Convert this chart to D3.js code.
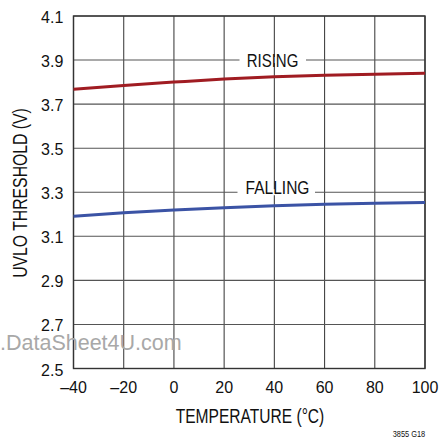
<!DOCTYPE html>
<html><head><meta charset="utf-8">
<script src="https://cdn.jsdelivr.net/npm/d3@7"></script>
<style>
body{margin:0;background:#fff;}
svg text{font-family:"Liberation Sans",Arial,sans-serif;fill:#111;}
</style></head>
<body><svg id="c" width="439" height="438"></svg>
<script>
const temps = [-40, -20, 0, 20, 40, 60, 80, 100];
const rising = [3.767, 3.785, 3.800, 3.814, 3.824, 3.831, 3.836, 3.840];
const falling = [3.191, 3.207, 3.219, 3.230, 3.239, 3.245, 3.250, 3.254];
const xTicks = [-40, -20, 0, 20, 40, 60, 80, 100];
const yTicks = [2.5, 2.7, 2.9, 3.1, 3.3, 3.5, 3.7, 3.9, 4.1];

const svg = d3.select("#c");
const L = 73.5, R = 425, T = 16, B = 368.5;
const x = d3.scaleLinear().domain([-40, 100]).range([L, R]);
const y = d3.scaleLinear().domain([2.5, 4.1]).range([B, T]);

// grid
svg.selectAll(".vg").data(xTicks).join("line")
  .attr("x1", d => x(d)).attr("x2", d => x(d)).attr("y1", T).attr("y2", B)
  .attr("stroke", "#444").attr("stroke-width", 1.1);
svg.selectAll(".hg").data(yTicks).join("line")
  .attr("x1", L).attr("x2", R).attr("y1", d => y(d)).attr("y2", d => y(d))
  .attr("stroke", "#555").attr("stroke-width", 1.1);
svg.append("rect").attr("x", L).attr("y", T).attr("width", R - L).attr("height", B - T)
  .attr("fill", "none").attr("stroke", "#333").attr("stroke-width", 1.4);

// watermark
svg.append("text").attr("x", 0).attr("y", 350).text(".DataSheet4U.com")
  .style("font-size", "21.5px").style("fill", "#a8a8a8");

// condensed text helper
function ctext(txt, tx, ty, size, sx, rot) {
  return svg.append("text")
    .attr("transform", `translate(${tx},${ty})` + (rot ? ` rotate(${rot})` : "") + ` scale(${sx},1)`)
    .attr("text-anchor", "middle").style("font-size", size + "px").text(txt);
}

// labels with knockout
svg.append("rect").attr("x", 239.5).attr("y", y(3.9) - 3).attr("width", 66.5).attr("height", 6).attr("fill", "#fff");
ctext("RISING", 272.5, 66.7, 18.5, 0.81);
svg.append("rect").attr("x", 237.5).attr("y", y(3.3) - 3).attr("width", 77.5).attr("height", 6).attr("fill", "#fff");
ctext("FALLING", 277.5, 194, 18.5, 0.84);

// lines
const line = d3.line().x((d, i) => x(temps[i])).y(d => y(d)).curve(d3.curveMonotoneX);
svg.append("path").datum(rising).attr("d", line).attr("fill", "none")
  .attr("stroke", "#a01c22").attr("stroke-width", 3);
svg.append("path").datum(falling).attr("d", line).attr("fill", "none")
  .attr("stroke", "#3b53a5").attr("stroke-width", 3);

// tick labels
svg.selectAll(".yt").data(yTicks).join("text")
  .attr("x", 63.3).attr("y", d => y(d) + 7).attr("text-anchor", "end")
  .style("font-size", "16px").text(d => d.toFixed(1));
svg.selectAll(".xt").data(xTicks).join("text")
  .attr("x", d => x(d)).attr("y", 393).attr("text-anchor", "middle")
  .style("font-size", "16px").text(d => d < 0 ? "\u2013" + Math.abs(d) : d);

// axis titles
ctext("TEMPERATURE (\u00B0C)", 250, 422.5, 20.5, 0.76);
ctext("UVLO THRESHOLD (V)", 26.5, 193, 20.5, 0.77, -90);
ctext("3855 G18", 409, 437, 9.5, 0.78);
</script></body></html>
